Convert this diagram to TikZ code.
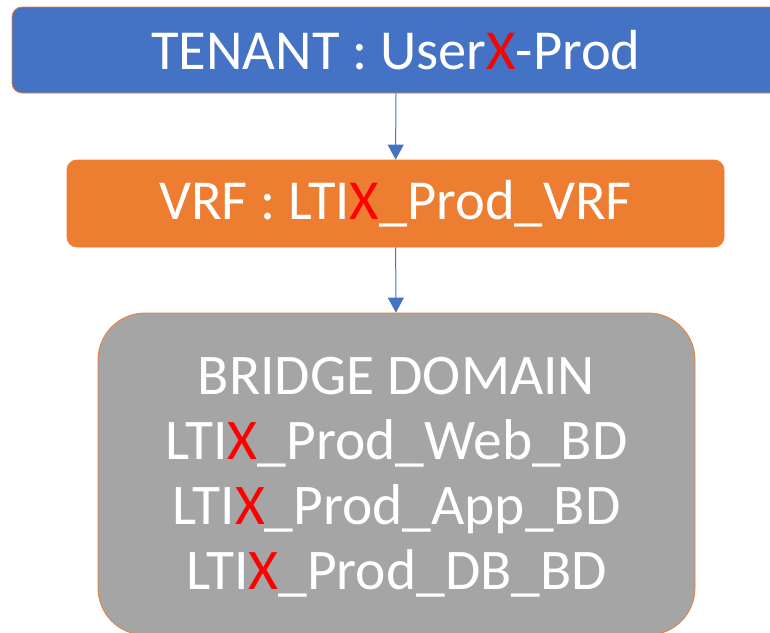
\documentclass[tikz,border=0pt]{standalone}
\usepackage{fontspec}
\setmainfont{Carlito}
\usetikzlibrary{arrows.meta}
\definecolor{cblue}{HTML}{4472C4}
\definecolor{corange}{HTML}{ED7D31}
\definecolor{cgray}{HTML}{A5A5A5}
\definecolor{cred}{HTML}{FF0000}
\newcommand{\rx}{\textcolor{cred}{X}}
\tikzset{
  box/.style={rectangle, rounded corners=10pt, draw=corange, line width=0.8pt, text=white, inner sep=0pt, font=\fontsize{56.5}{65}\selectfont},
  conn/.style={draw=cblue, line width=1pt, -{Triangle[width=16pt,length=15pt]}}
}
\begin{document}
\begin{tikzpicture}[x=1pt,y=-1pt]
\useasboundingbox (0,0) rectangle (770,632);
\clip (0,0) rectangle (770,632);
\node[box, fill=cblue, minimum width=768pt, minimum height=86pt] (tenant) at (396,50) {TENANT : User\rx-Prod};
\node[box, fill=corange, minimum width=657pt, minimum height=87pt] (vrf) at (395.5,203.5) {VRF : LTI\rx\_Prod\_VRF};
\node[box, fill=cgray, rounded corners=47pt, minimum width=597pt, minimum height=322pt] (bd) at (396.5,474) {};
\node[text=white, inner sep=0pt, align=center, font=\fontsize{57.5}{65}\selectfont] (bdtext) at (396.5,477) {BRIDGE DOMAIN\\LTI\rx\_Prod\_Web\_BD\\LTI\rx\_Prod\_App\_BD\\LTI\rx\_Prod\_DB\_BD};
\draw[conn] (tenant) -- (vrf);
\draw[conn] (vrf) -- (bd);
\end{tikzpicture}
\end{document}
